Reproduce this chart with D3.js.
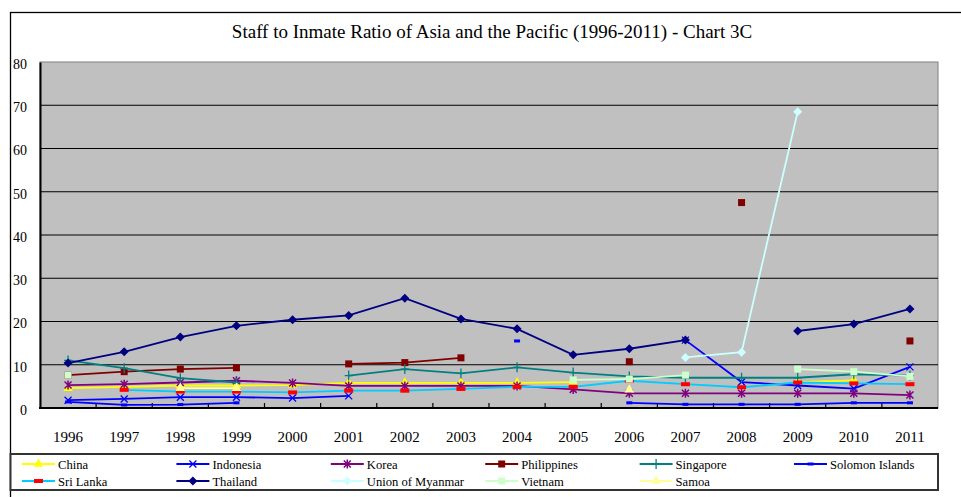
<!DOCTYPE html>
<html>
<head>
<meta charset="utf-8">
<script src="https://cdn.jsdelivr.net/npm/d3@7"></script>
<style>
  body { margin: 0; background: #fff; }
  svg text { font-family: "Liberation Serif", "DejaVu Serif", serif; fill: #000; }
</style>
</head>
<body>
<div id="chart"></div>
<script>
// values (null = no value that year)
var years = ['1996','1997','1998','1999','2000','2001','2002','2003','2004','2005','2006','2007','2008','2009','2010','2011']
var yTicks = [0, 10, 20, 30, 40, 50, 60, 70, 80]

var china       = [4.6, 4.9, 5.2, 5.2, 5.3, 5.8, 5.8, 5.8, 5.8, 6.0, null, null, null, 6.0, 6.4, null]
var indonesia   = [1.8, 2.1, 2.5, 2.5, 2.3, 2.8, null, null, null, null, null, 15.7, 6.0, 5.2, 4.5, 9.5]
var korea       = [5.3, 5.5, 5.9, 6.3, 5.8, 5.1, 5.1, 5.1, 5.1, 4.3, 3.4, 3.4, 3.4, 3.4, 3.4, 3.0]
var philippines = [7.6, 8.4, 9.0, 9.3, null, 10.2, 10.5, 11.6, null, null, 10.7, null, 47.5, null, null, 15.5]
var singapore   = [11.0, 9.2, 6.9, 5.9, null, 7.5, 9.0, 8.0, 9.4, 8.2, 7.3, 7.0, 7.0, 7.0, 7.8, 7.5]
var solomon     = [1.4, 0.7, 0.8, 1.2, null, null, null, null, 15.5, null, 1.2, 0.85, 0.85, 0.85, 1.2, 1.2]
var sriLanka    = [null, 4.2, 3.8, 3.8, 3.6, 4.0, 4.0, 4.4, 4.9, 4.9, 6.3, 5.5, 4.8, 5.9, 5.7, 5.5]
var thailand    = [10.4, 13.0, 16.4, 19.0, 20.4, 21.4, 25.4, 20.6, 18.3, 12.3, 13.7, 15.7, null, 17.8, 19.4, 22.9]
var myanmar     = [null, null, null, null, null, null, null, null, null, null, null, 11.7, 12.9, 68.5, null, null]
var vietnam     = [7.6, null, null, null, null, null, null, null, null, 6.5, 6.7, 7.6, null, 9.0, 8.4, 7.3]
var samoa       = [null, null, 4.6, 4.6, null, null, null, null, null, null, 4.2, null, null, null, null, null]

var seriesNames = ['China','Indonesia','Korea','Philippines','Singapore','Solomon Islands',
                   'Sri Lanka','Thailand','Union of Myanmar','Vietnam','Samoa']
var seriesValues = [china, indonesia, korea, philippines, singapore, solomon,
                    sriLanka, thailand, myanmar, vietnam, samoa]

// looks per series
var looks = {
  'China':            { line: '#ffff00', mark: 'triangle', fill: '#ffff00' },
  'Indonesia':        { line: '#0000ff', mark: 'x',        fill: '#0000ff' },
  'Korea':            { line: '#800080', mark: 'star',     fill: '#800080' },
  'Philippines':      { line: '#800000', mark: 'square',   fill: '#800000' },
  'Singapore':        { line: '#008080', mark: 'plus',     fill: '#008080' },
  'Solomon Islands':  { line: '#0000ff', mark: 'dash',     fill: '#0000ff' },
  'Sri Lanka':        { line: '#00ccff', mark: 'bar',      fill: '#ff0000' },
  'Thailand':         { line: '#000080', mark: 'diamond',  fill: '#000080' },
  'Union of Myanmar': { line: '#ccffff', mark: 'diamond',  fill: '#ccffff' },
  'Vietnam':          { line: '#ccffcc', mark: 'square',   fill: '#ccffcc' },
  'Samoa':            { line: '#ffff99', mark: 'triangle', fill: '#ffff99' }
}

var serif = '"Liberation Serif", "DejaVu Serif", serif'
var W = 961, H = 497
var plot = { left: 40, top: 62, right: 938, bottom: 408 }

var svg = d3.select('#chart').append('svg')
  .attr('width', W).attr('height', H)
  .style('font-family', serif)

// outer chart frame
svg.append('rect')
  .attr('x', 10.5).attr('y', 12.5)
  .attr('width', W + 20).attr('height', H + 20)
  .attr('fill', '#fff').attr('stroke', '#000').attr('stroke-width', 1.3)

svg.append('text')
  .attr('x', 492).attr('y', 38)
  .attr('text-anchor', 'middle')
  .style('font-family', serif)
  .style('font-size', '19px')
  .text('Staff to Inmate Ratio of Asia and the Pacific (1996-2011) - Chart 3C')

var x = d3.scaleBand().domain(years).range([plot.left, plot.right])
var y = d3.scaleLinear().domain([0, 80]).range([plot.bottom, plot.top])
function cx(d, i) { return x(years[i]) + x.bandwidth() / 2 }

// plot area
svg.append('rect')
  .attr('x', plot.left).attr('y', plot.top)
  .attr('width', plot.right - plot.left).attr('height', plot.bottom - plot.top)
  .attr('fill', '#c0c0c0').attr('stroke', '#808080').attr('stroke-width', 1)

// gridlines
svg.append('g').selectAll('line')
  .data(yTicks.filter(function(t) { return t > 0 && t < 80 }))
  .enter().append('line')
  .attr('x1', plot.left).attr('x2', plot.right)
  .attr('y1', function(d) { return y(d) }).attr('y2', function(d) { return y(d) })
  .attr('stroke', '#000').attr('stroke-width', 1.2)

// y axis
var yAxis = d3.axisLeft(y).tickValues(yTicks).tickSize(0).tickPadding(13)
var yg = svg.append('g').attr('transform', 'translate(' + plot.left + ',0)').call(yAxis)
  .attr('font-family', serif)
yg.select('.domain').attr('stroke', '#000').attr('stroke-width', 2)
yg.selectAll('text')
  .style('font-family', serif)
  .style('font-size', '14px').attr('dy', '0.45em').attr('fill', '#000')

// x axis: labels under categories, ticks on category boundaries pointing up
svg.append('line')
  .attr('x1', plot.left - 1).attr('x2', plot.right)
  .attr('y1', plot.bottom).attr('y2', plot.bottom)
  .attr('stroke', '#000').attr('stroke-width', 2)
svg.append('g').selectAll('line')
  .data(years.slice(1))
  .enter().append('line')
  .attr('x1', function(d) { return x(d) }).attr('x2', function(d) { return x(d) })
  .attr('y1', plot.bottom).attr('y2', plot.bottom - 5)
  .attr('stroke', '#000').attr('stroke-width', 1.2)
svg.append('g').selectAll('text')
  .data(years)
  .enter().append('text')
  .attr('x', function(d) { return x(d) + x.bandwidth() / 2 })
  .attr('y', 442)
  .attr('text-anchor', 'middle')
  .style('font-family', serif)
  .style('font-size', '15px')
  .text(function(d) { return d })

// marker drawing
function drawMark(g, kind, fill, px, py) {
  if (kind == 'triangle') {
    g.append('path').attr('d', d3.symbol(d3.symbolTriangle, 40)())
      .attr('transform', 'translate(' + px + ',' + py + ')').attr('fill', fill)
  } else if (kind == 'square') {
    g.append('rect').attr('x', px - 3.5).attr('y', py - 3.5).attr('width', 7).attr('height', 7).attr('fill', fill)
  } else if (kind == 'diamond') {
    g.append('path').attr('d', 'M0,-4.5L4.5,0L0,4.5L-4.5,0Z')
      .attr('transform', 'translate(' + px + ',' + py + ')').attr('fill', fill)
  } else if (kind == 'x') {
    g.append('path').attr('d', 'M-3.5,-3.5L3.5,3.5M-3.5,3.5L3.5,-3.5')
      .attr('transform', 'translate(' + px + ',' + py + ')').attr('stroke', fill).attr('stroke-width', 1.3)
  } else if (kind == 'star') {
    g.append('path').attr('d', 'M-3.5,-3.5L3.5,3.5M-3.5,3.5L3.5,-3.5M0,-4.5L0,4.5')
      .attr('transform', 'translate(' + px + ',' + py + ')').attr('stroke', fill).attr('stroke-width', 1.5)
  } else if (kind == 'plus') {
    g.append('path').attr('d', 'M-4,0L4,0M0,-5L0,5')
      .attr('transform', 'translate(' + px + ',' + py + ')').attr('stroke', fill).attr('stroke-width', 1.3)
  } else if (kind == 'dash') {
    g.append('rect').attr('x', px - 3).attr('y', py - 1.5).attr('width', 6).attr('height', 3).attr('fill', fill)
  } else if (kind == 'bar') {
    g.append('rect').attr('x', px - 4.5).attr('y', py - 2).attr('width', 9).attr('height', 4).attr('fill', fill)
  }
}

var line = d3.line()
  .defined(function(d) { return d != null })
  .x(cx)
  .y(function(d) { return y(d) })

var seriesG = svg.append('g')
seriesNames.forEach(function(name, k) {
  var vals = seriesValues[k]
  var look = looks[name]
  var g = seriesG.append('g').attr('class', 'series')
  g.append('path')
    .attr('d', line(vals))
    .attr('fill', 'none')
    .attr('stroke', look.line)
    .attr('stroke-width', 1.8)
  vals.forEach(function(v, i) {
    if (v == null) return
    drawMark(g, look.mark, look.fill, cx(v, i), y(v))
  })
})

// legend
var legendG = svg.append('g')
legendG.append('rect')
  .attr('x', 10.5).attr('y', 454)
  .attr('width', 927.5).attr('height', 36)
  .attr('fill', '#fff').attr('stroke', '#333').attr('stroke-width', 2)

seriesNames.forEach(function(name, k) {
  var col = k % 6, row = Math.floor(k / 6)
  var lx = 22 + col * 154.4
  var ly = 464 + row * 17
  var look = looks[name]
  legendG.append('line')
    .attr('x1', lx).attr('x2', lx + 33)
    .attr('y1', ly).attr('y2', ly)
    .attr('stroke', look.line).attr('stroke-width', 1.8)
  drawMark(legendG, look.mark, look.fill, lx + 16.5, ly)
  legendG.append('text')
    .attr('x', lx + 36).attr('y', ly + 4.5)
    .style('font-family', serif)
    .style('font-size', '12.6px')
    .text(name)
})
</script>
</body>
</html>
